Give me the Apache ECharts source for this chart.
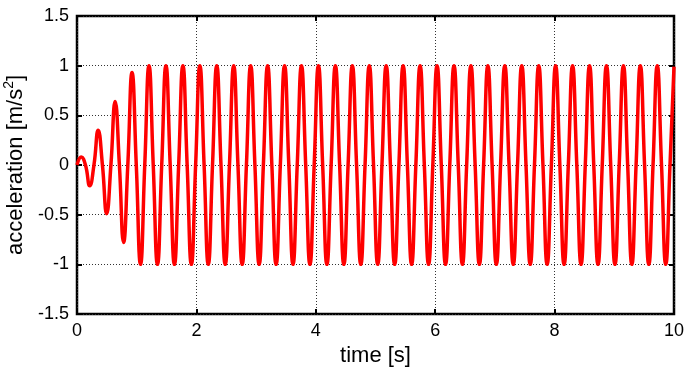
<!DOCTYPE html>
<html>
<head>
<meta charset="utf-8">
<script src="https://cdn.jsdelivr.net/npm/echarts@6/dist/echarts.min.js"></script>
<style>html,body{margin:0;padding:0;background:#fff}#c{width:686px;height:372px}</style>
</head>
<body>
<div id="c"></div>
<script>
// sample times (s) read at quarter-period points of the trace
var times = [
 0,0.071,0.142,0.213,0.284,0.355,0.426,0.497,0.568,0.639,
 0.710,0.780,0.851,0.922,0.993,1.064,1.135,1.206,1.277,1.348,
 1.419,1.490,1.561,1.632,1.703,1.774,1.845,1.916,1.987,2.058,
 2.129,2.199,2.270,2.341,2.412,2.483,2.554,2.625,2.696,2.767,
 2.838,2.909,2.980,3.051,3.122,3.193,3.264,3.335,3.406,3.477,
 3.548,3.618,3.689,3.760,3.831,3.902,3.973,4.044,4.115,4.186,
 4.257,4.328,4.399,4.470,4.541,4.612,4.683,4.754,4.825,4.896,
 4.967,5.037,5.108,5.179,5.250,5.321,5.392,5.463,5.534,5.605,
 5.676,5.747,5.818,5.889,5.960,6.031,6.102,6.173,6.244,6.315,
 6.386,6.456,6.527,6.598,6.669,6.740,6.811,6.882,6.953,7.024,
 7.095,7.166,7.237,7.308,7.379,7.450,7.521,7.592,7.663,7.734,
 7.805,7.875,7.946,8.017,8.088,8.159,8.230,8.301,8.372,8.443,
 8.514,8.585,8.656,8.727,8.798,8.869,8.940,9.011,9.082,9.153,
 9.224,9.294,9.365,9.436,9.507,9.578,9.649,9.720,9.791,9.862,
 9.933,10.000
];
// acceleration (m/s^2) at those times
var accel = [
 0,0.08,0,-0.21,0,0.35,0,-0.49,0,0.64,
 0,-0.78,0,0.93,0,-1,0,1,0,-1,
 0,1,0,-1,0,1,0,-1,0,1,
 0,-1,0,1,0,-1,0,1,0,-1,
 0,1,0,-1,0,1,0,-1,0,1,
 0,-1,0,1,0,-1,0,1,0,-1,
 0,1,0,-1,0,1,0,-1,0,1,
 0,-1,0,1,0,-1,0,1,0,-1,
 0,1,0,-1,0,1,0,-1,0,1,
 0,-1,0,1,0,-1,0,1,0,-1,
 0,1,0,-1,0,1,0,-1,0,1,
 0,-1,0,1,0,-1,0,1,0,-1,
 0,1,0,-1,0,1,0,-1,0,1,
 0,-1,0,1,0,-1,0,1,0,-1,
 0,0.99
];
var xTicks = [0, 2, 4, 6, 8, 10];
var yTicks = [-1.5, -1, -0.5, 0, 0.5, 1, 1.5];

var seriesData = times.map(function (t, i) { return [t, accel[i]]; });
var font = 'Liberation Sans, Arial, sans-serif';
var gridLine = { show: true, lineStyle: { color: '#333', width: 1, type: [1, 2] } };
var tick = { show: true, inside: true, length: 5, lineStyle: { color: '#000', width: 2 } };
var noLine = { show: false, onZero: false };

var chart = echarts.init(document.getElementById('c'), null, { renderer: 'canvas' });
chart.setOption({
  animation: false,
  backgroundColor: '#fff',
  grid: { left: 77, right: 12, top: 16, bottom: 58, containLabel: false, outerBoundsMode: 'none',
    show: true, borderColor: '#000', borderWidth: 2.5, backgroundColor: 'transparent' },
  xAxis: [{
    type: 'value', min: xTicks[0], max: xTicks[xTicks.length - 1], interval: 2,
    position: 'bottom',
    name: 'time [s]', nameLocation: 'middle', nameGap: 28,
    nameTextStyle: { fontFamily: font, fontSize: 22, color: '#000' },
    axisLine: noLine, axisTick: tick, splitLine: gridLine,
    axisLabel: { fontFamily: font, fontSize: 18, color: '#000', margin: 8 }
  }, {
    type: 'value', min: xTicks[0], max: xTicks[xTicks.length - 1], interval: 2,
    position: 'top', axisLine: noLine, axisTick: tick,
    axisLabel: { show: false }, splitLine: { show: false }
  }],
  yAxis: [{
    type: 'value', min: yTicks[0], max: yTicks[yTicks.length - 1], interval: 0.5,
    position: 'left',
    name: '{a|acceleration [m/s}{sup|2}{a|]}', nameLocation: 'middle', nameGap: 37, nameRotate: 90,
    nameTextStyle: { fontFamily: font, fontSize: 22, color: '#000',
      rich: {
        a: { fontFamily: font, fontSize: 22, color: '#000', lineHeight: 28 },
        sup: { fontFamily: font, fontSize: 14, color: '#000', verticalAlign: 'top', lineHeight: 15 }
      } },
    axisLine: noLine, axisTick: tick, splitLine: gridLine,
    axisLabel: { fontFamily: font, fontSize: 18, color: '#000', margin: 8 }
  }, {
    type: 'value', min: yTicks[0], max: yTicks[yTicks.length - 1], interval: 0.5,
    position: 'right', axisLine: noLine, axisTick: tick,
    axisLabel: { show: false }, splitLine: { show: false }
  }],
  series: [{
    type: 'line', data: seriesData, xAxisIndex: 0, yAxisIndex: 0,
    showSymbol: false, smooth: 0.5,
    lineStyle: { color: '#ff0000', width: 3.5 }, z: 5
  }]
});
</script>
</body>
</html>
